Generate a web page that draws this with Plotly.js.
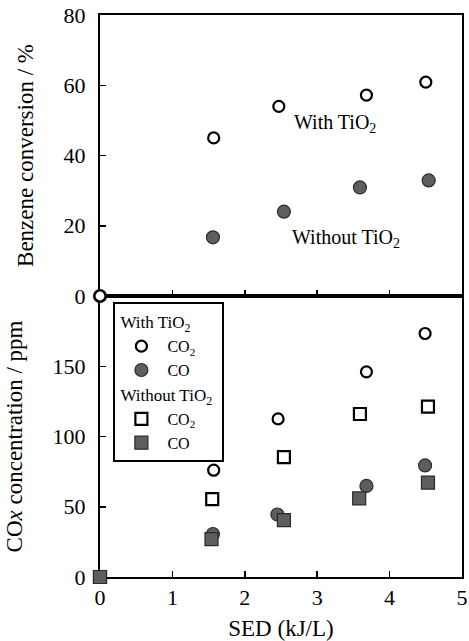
<!DOCTYPE html>
<html><head><meta charset="utf-8">
<script src="https://cdn.plot.ly/plotly-3.0.1.min.js"></script>
<style>body{margin:0;background:#fff}#c{width:469px;height:641px}</style>
</head><body><div id="c"></div>
<script>
// Top panel: benzene conversion (%)
const convWithX = [0, 1.57, 2.47, 3.68, 4.50];
const convWithY = [0, 45.0, 54.0, 57.2, 60.9];
const convWithoutX = [0, 1.56, 2.54, 3.59, 4.54];
const convWithoutY = [0, 16.7, 24.0, 30.9, 32.9];
// Bottom panel: COx concentration (ppm)
const withCO2X = [0, 1.57, 2.46, 3.68, 4.49];
const withCO2Y = [0, 76, 112.5, 146, 173.3];
const withCOX = [0, 1.56, 2.45, 3.68, 4.49];
const withCOY = [0, 30.6, 44.5, 64.8, 79.4];
const withoutCO2X = [0, 1.55, 2.54, 3.59, 4.53];
const withoutCO2Y = [0, 55.4, 85.3, 116, 121.2];
const withoutCOX = [0, 1.54, 2.54, 3.58, 4.53];
const withoutCOY = [0, 26.9, 40.5, 55.9, 67.2];
const xTicks = [0, 1, 2, 3, 4, 5];
const topYTicks = [0, 20, 40, 60, 80];
const botYTicks = [0, 50, 100, 150];

const F = 'Liberation Serif, Times New Roman, serif';
const openCircle = {symbol: 'circle', size: 11, color: '#fff', line: {color: '#000', width: 2.2}};
const fillCircle = {symbol: 'circle', size: 13, color: '#5e5e5e', line: {color: '#2a2a2a', width: 1.2}};
const openSquare = {symbol: 'square', size: 12, color: '#fff', line: {color: '#000', width: 2.2}};
const fillSquare = {symbol: 'square', size: 13, color: '#5e5e5e', line: {color: '#2a2a2a', width: 1.2}};

const traces = [
  {x: convWithoutX, y: convWithoutY, xaxis: 'x2', yaxis: 'y2', mode: 'markers', marker: fillCircle, showlegend: false, cliponaxis: false},
  {x: convWithX, y: convWithY, xaxis: 'x2', yaxis: 'y2', mode: 'markers', marker: openCircle, showlegend: false, cliponaxis: false},
  {x: withCO2X, y: withCO2Y, mode: 'markers', marker: openCircle, name: 'CO<sub>2</sub>', legendgroup: 'w', legendgrouptitle: {text: 'With TiO<sub>2</sub>', font: {family: F, size: 17, color: '#000'}}, cliponaxis: false},
  {x: withCOX, y: withCOY, mode: 'markers', marker: fillCircle, name: 'CO', legendgroup: 'w', cliponaxis: false},
  {x: withoutCO2X, y: withoutCO2Y, mode: 'markers', marker: openSquare, name: 'CO<sub>2</sub>', legendgroup: 'wo', legendgrouptitle: {text: 'Without TiO<sub>2</sub>', font: {family: F, size: 17, color: '#000'}}, cliponaxis: false},
  {x: withoutCOX, y: withoutCOY, mode: 'markers', marker: fillSquare, name: 'CO', legendgroup: 'wo', cliponaxis: false}
];

const axCommon = {showline: true, linecolor: '#000', linewidth: 2, mirror: true, showgrid: false, zeroline: false,
  ticks: 'inside', ticklen: 6, tickwidth: 1.5, tickcolor: '#000', layer: 'below traces',
  tickfont: {family: F, size: 22, color: '#000'}};

const layout = {
  width: 469, height: 641,
  margin: {l: 100, r: 7, t: 15, b: 64},
  paper_bgcolor: '#fff', plot_bgcolor: '#fff',
  font: {family: F, color: '#000'},
  xaxis: Object.assign({}, axCommon, {domain: [0, 1], anchor: 'y', range: [0, 5], tickvals: xTicks,
    title: {text: 'SED (kJ/L)', font: {family: F, size: 23}, standoff: 10}}),
  yaxis: Object.assign({}, axCommon, {domain: [0, 0.5], anchor: 'x', range: [0, 200], tickvals: botYTicks, ticklabelstandoff: 8,
    title: {text: 'CO<i>x</i> concentration / ppm', font: {family: F, size: 23}, standoff: 24}}),
  xaxis2: Object.assign({}, axCommon, {domain: [0, 1], anchor: 'y2', range: [0, 5], tickvals: xTicks, showticklabels: false}),
  yaxis2: Object.assign({}, axCommon, {domain: [0.5, 1], anchor: 'x2', range: [0, 80], tickvals: topYTicks, ticklabelstandoff: 8,
    title: {text: 'Benzene conversion / %', font: {family: F, size: 23}, standoff: 24}}),
  showlegend: true,
  legend: {x: 0.037, y: 0.489, xanchor: 'left', yanchor: 'top', bgcolor: '#fff', bordercolor: '#000', borderwidth: 2,
    font: {family: F, size: 16, color: '#000'}, tracegroupgap: 0, traceorder: 'grouped', itemwidth: 42},
  annotations: [
    {xref: 'x2', yref: 'y2', x: 3.25, y: 49, text: 'With TiO<sub>2</sub>', showarrow: false, font: {family: F, size: 20, color: '#000'}},
    {xref: 'x2', yref: 'y2', x: 3.4, y: 16.4, text: 'Without TiO<sub>2</sub>', showarrow: false, font: {family: F, size: 20, color: '#000'}}
  ]
};

Plotly.newPlot('c', traces, layout, {displayModeBar: false, staticPlot: true});
</script></body></html>
